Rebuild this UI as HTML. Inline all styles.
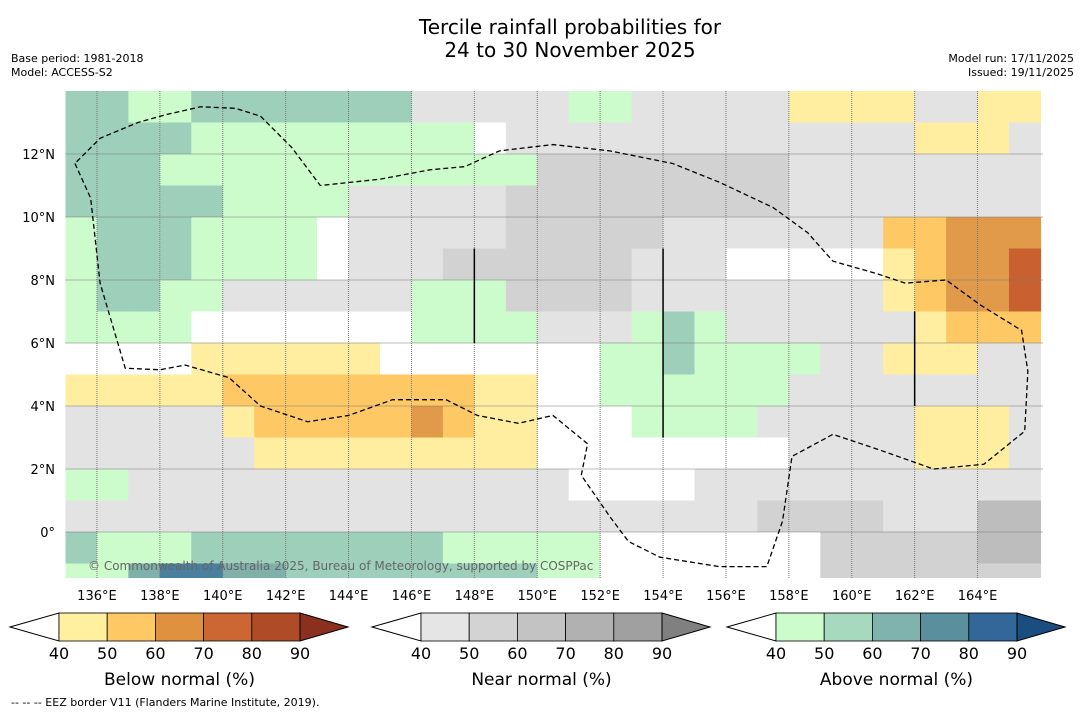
<!DOCTYPE html>
<html><head><meta charset="utf-8"><style>
body{margin:0;background:#fff;font-family:"Liberation Sans","DejaVu Sans",sans-serif}
svg{display:block}
</style></head><body>
<svg id="c" width="1085" height="713" font-family="DejaVu Sans, Liberation Sans, sans-serif">
<text x="570" y="34" font-size="20" text-anchor="middle">Tercile rainfall probabilities for</text>
<text x="570" y="57" font-size="20" text-anchor="middle">24 to 30 November 2025</text>
<text x="11" y="62" font-size="11">Base period: 1981-2018</text>
<text x="11" y="76" font-size="11">Model: ACCESS-S2</text>
<text x="1074" y="62" font-size="11" text-anchor="end">Model run: 17/11/2025</text>
<text x="1074" y="76" font-size="11" text-anchor="end">Issued: 19/11/2025</text>
<g id="map"></g>
<g id="bars"></g>
<text x="11" y="706" font-size="11">--  --  -- EEZ border V11 (Flanders Marine Institute, 2019).</text>
</svg>
<script>
const lonStart = 135, latTop = 14;
const lonTicks = [136,138,140,142,144,146,148,150,152,154,156,158,160,162,164];
const latTicks = [12,10,8,6,4,2,0];
// 1-degree cells, row 0 = 14N..13N; column 0 = 135E..136E
const gridRows = [
"AAaaAAAAAAAgggggaagggggyyyyggyy",
"AAAAaaaaaaaaa.gggggggggggggyyyg",
"AAAaaaaaaaaaaaaGGGGGGGGgggggggg",
"AAAAAaaaagggggGGGGGGGGGgggggggg",
"aAAAaaaa.gggggGGGGGgggggggooOOO",
"aAAAaaaa.gggGGGGGGggg.....yoOOP",
"aAAaaggggggaaaGGGGggggggggyoOOP",
"aaaa.......aaaagggaAaggggggyoooo".slice(0,31),
"....yyyyyy.......aaAaaaaggyyygg",
"yyyyyooooooooyy..aaaaaaggggggggg".slice(0,31),
"gggggyoooooOoyy...aaaagggggyyyg",
"ggggggyyyyyyyyy........ggggyyyg",
"aagggggggggggggg....ggggggggggg",
"ggggggggggggggggggggggGGGGgggHH",
"Aaaa AAAAAAAaaaaa.......GGGGGHH".replace(' ','A').slice(0,31),
"aaBCCBBAAAAAAAAaa.......GGGGGGG".slice(0,31)
];
const colorOf = {'.':'#ffffff',g:'#e3e3e3',G:'#d2d2d2',H:'#bdbdbd',y:'#ffeda0',o:'#fec965',O:'#e09a4a',P:'#c8612f',a:'#ccfccc',A:'#9dcfbb',B:'#7fb0aa',C:'#4a7f9e'};
const eezLon = [135.3,135.8,136.1,136.9,138.0,138.8,140.2,141.2,142.7,144.0,145.4,147.1,148.1,149.4,150.5,151.6,151.4,152.3,152.9,153.9,155.8,157.3,157.8,158.1,159.4,160.9,162.6,164.2,165.5,165.6,165.4,164.1,163.0,161.7,160.8,159.4,158.6,157.5,155.8,154.3,152.3,150.5,148.8,147.7,146.6,145.0,143.1,142.2,141.2,140.4,139.3,138.2,137.3,136.1,135.3];
const eezLat = [11.7,10.6,7.9,5.2,5.15,5.3,4.9,4.0,3.5,3.7,4.2,4.2,3.7,3.45,3.7,2.8,1.8,0.5,-0.3,-0.8,-1.1,-1.1,0.35,2.4,3.1,2.6,2.0,2.15,3.2,5.1,6.4,7.2,8.0,7.9,8.2,8.6,9.5,10.3,11.1,11.7,12.1,12.3,12.1,11.6,11.5,11.2,11.0,12.2,13.2,13.45,13.5,13.25,13.0,12.5,11.7];
const x0=65.5, y0=91, px=31.45, py=31.5, W=977, H=487;
const X = lon => x0 + (lon-lonStart)*px;
const Y = lat => y0 + (latTop-lat)*py;
const NS='http://www.w3.org/2000/svg';
function mk(tag, at, parent){const e=document.createElementNS(NS,tag);for(const k in at)e.setAttribute(k,at[k]);parent.appendChild(e);return e;}
const map=document.getElementById('map');
const clip=mk('clipPath',{id:'cp'},mk('defs',{},map));
mk('rect',{x:x0,y:y0,width:W,height:H},clip);
const cells=mk('g',{'clip-path':'url(#cp)'},map);
gridRows.forEach((row,r)=>{
  for(let c=0;c<row.length;c++){
    const rc=mk('rect',{x:X(lonStart+c),y:Y(latTop-r),width:px+0.6,height:py+0.6,fill:colorOf[row[c]]||'#fff'},cells);
    
    
  }
});
lonTicks.forEach(l=>{
  const ln=mk('line',{x1:X(l),x2:X(l),y1:y0,y2:y0+H,stroke:'#777','stroke-dasharray':'1,1','stroke-width':1},map);
  
  
  const t=mk('text',{x:X(l),y:600,'font-size':13,'text-anchor':'middle'},map);
  t.textContent=l+'°E';
  
  
});
latTicks.forEach(l=>{
  const ln=mk('line',{x1:x0,x2:x0+W,y1:Y(l),y2:Y(l),stroke:'#777','stroke-dasharray':'1,1','stroke-width':1},map);
  
  
  const t=mk('text',{x:55,y:Y(l)+5,'font-size':13,'text-anchor':'end'},map);
  t.textContent=l===0?'0°':l+'°N';
  
  
});
[[148,9,6],[154,9,3],[162,7,4]].forEach(v=>{
  const ln=mk('line',{x1:X(v[0]),x2:X(v[0]),y1:Y(v[1]),y2:Y(v[2]),stroke:'#000','stroke-width':1.5},map);
  
  
});
const eez=mk('polyline',{points:eezLon.map((l,i)=>X(l)+','+Y(eezLat[i])).join(' '),fill:'none',stroke:'#000','stroke-width':1.3,'stroke-dasharray':'5,3'},map);


const cp=mk('text',{x:88,y:570,'font-size':12,fill:'#666'},map);
cp.textContent='© Commonwealth of Australia 2025, Bureau of Meteorology, supported by COSPPac';


const barLabels=[40,50,60,70,80,90];
const barDefs=[
 {x:10,title:'Below normal (%)',cols:['#fff0a0','#fec965','#e0913f','#cc6633','#b04b27','#8b2f1f']},
 {x:372,title:'Near normal (%)',cols:['#e5e5e5','#d3d3d3','#c3c3c3','#b1b1b1','#a0a0a0','#808080']},
 {x:727,title:'Above normal (%)',cols:['#ccfccc','#a6d9bd','#80b3ad','#5a8f9e','#336699','#1a4d80']}
];
const bars=document.getElementById('bars');
barDefs.forEach(b=>{
  const g=mk('g',{},bars);
  
  
  const bx=b.x+49, bw=48.2, top=613, h=28, mid=627;
  mk('polygon',{points:`${b.x},${mid} ${bx},${top} ${bx},${top+h}`,fill:'#fff',stroke:'#000'},g);
  b.cols.slice(0,5).forEach((c,i)=>mk('rect',{x:bx+i*bw,y:top,width:bw,height:h,fill:c,stroke:'#000','stroke-width':0.8},g));
  const ex=bx+5*bw;
  mk('polygon',{points:`${ex},${top} ${ex+48},${mid} ${ex},${top+h}`,fill:b.cols[5],stroke:'#000'},g);
  barLabels.forEach((v,i)=>{const t=mk('text',{x:bx+i*bw,y:659,'font-size':16,'text-anchor':'middle'},g);t.textContent=v;});
  const tt=mk('text',{x:bx+2.5*bw,y:685,'font-size':17,'text-anchor':'middle'},g);
  tt.textContent=b.title;
});
</script>
</body></html>
